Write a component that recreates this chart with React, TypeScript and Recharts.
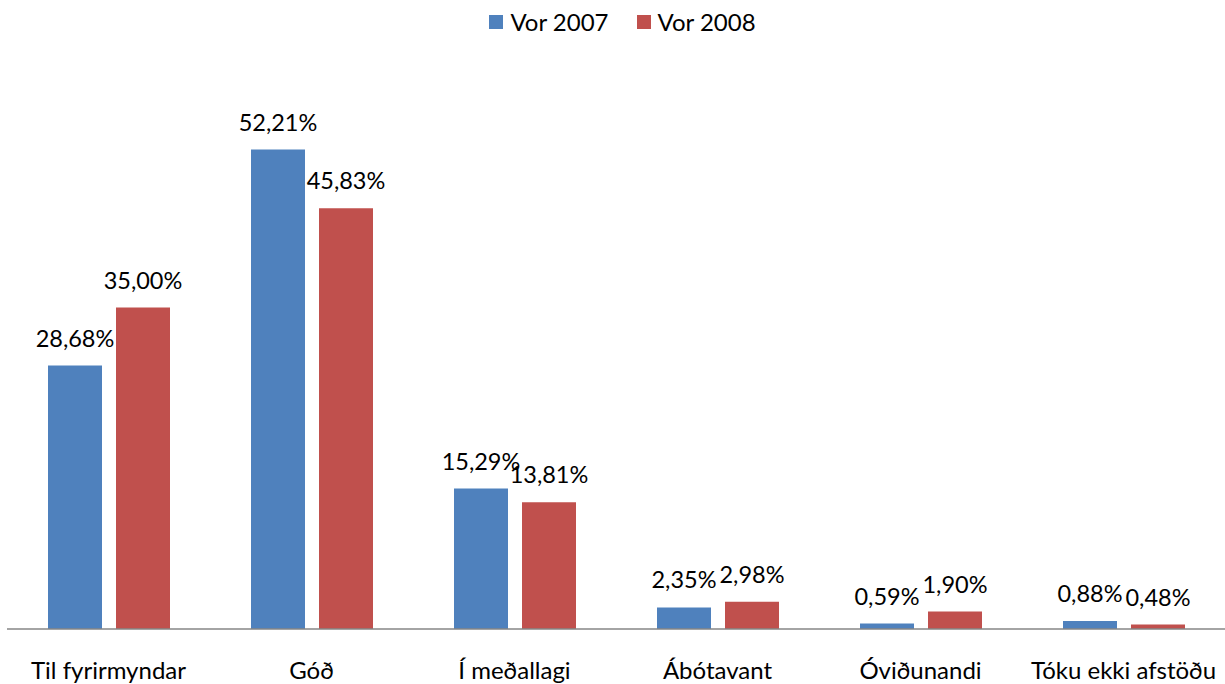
import React from "react";
import { BarChart, Bar, XAxis, YAxis, LabelList } from "recharts";

const categories = ["Til fyrirmyndar", "Góð", "Í meðallagi", "Ábótavant", "Óviðunandi", "Tóku ekki afstöðu"];
const vor2007 = [28.68, 52.21, 15.29, 2.35, 0.59, 0.88];
const vor2008 = [35.0, 45.83, 13.81, 2.98, 1.9, 0.48];
const seriesNames = ["Vor 2007", "Vor 2008"];
const colors = ["#4F81BD", "#C0504D"];

const data = categories.map((c, i) => ({ name: c, v2007: vor2007[i], v2008: vor2008[i] }));

const FONT = "Lato, 'Open Sans', sans-serif";
const fmt = (v: number) => v.toFixed(2).replace(".", ",") + "%";

const TopLabel = (props: any) => {
  const { x, y, width, value } = props;
  return (
    <text x={x + width / 2} y={y - 19} textAnchor="middle" fontFamily={FONT} fontSize={23.5} fill="#000">
      {fmt(value)}
    </text>
  );
};

const Tick = (props: any) => {
  const { x, y, payload } = props;
  return (
    <text x={x} y={y + 42} textAnchor="middle" fontFamily={FONT} fontSize={24} fill="#000">
      {payload.value}
    </text>
  );
};

const LegendBox = () => (
  <div style={{ position: "absolute", top: 0, left: 0, width: 1225, display: "flex", justifyContent: "center", fontFamily: FONT, fontSize: 24, paddingTop: 7, paddingLeft: 20, boxSizing: "border-box", lineHeight: "30px" }}>
    {seriesNames.map((n, i) => (
      <div key={n} style={{ display: "flex", alignItems: "center", marginLeft: i ? 28 : 0 }}>
        <div style={{ width: 14, height: 14, background: colors[i], marginRight: 7 }} />
        <span>{n}</span>
      </div>
    ))}
  </div>
);

export default function App() {
  return (
    <div style={{ position: "absolute", left: 0, top: 0, width: 1225, height: 684, background: "#fff" }}>
      <BarChart width={1225} height={684} data={data} margin={{ top: 78, right: 0, left: 7, bottom: 25 }} barSize={54} barGap={14}>
        <XAxis dataKey="name" height={30} tickLine={false} axisLine={{ stroke: "#868686", strokeWidth: 1.5 }} tick={<Tick />} interval={0} />
        <YAxis hide domain={[0, 60]} />
        <Bar dataKey="v2007" fill={colors[0]} isAnimationActive={false}>
          <LabelList dataKey="v2007" content={<TopLabel />} />
        </Bar>
        <Bar dataKey="v2008" fill={colors[1]} isAnimationActive={false}>
          <LabelList dataKey="v2008" content={<TopLabel />} />
        </Bar>
      </BarChart>
      <LegendBox />
    </div>
  );
}
